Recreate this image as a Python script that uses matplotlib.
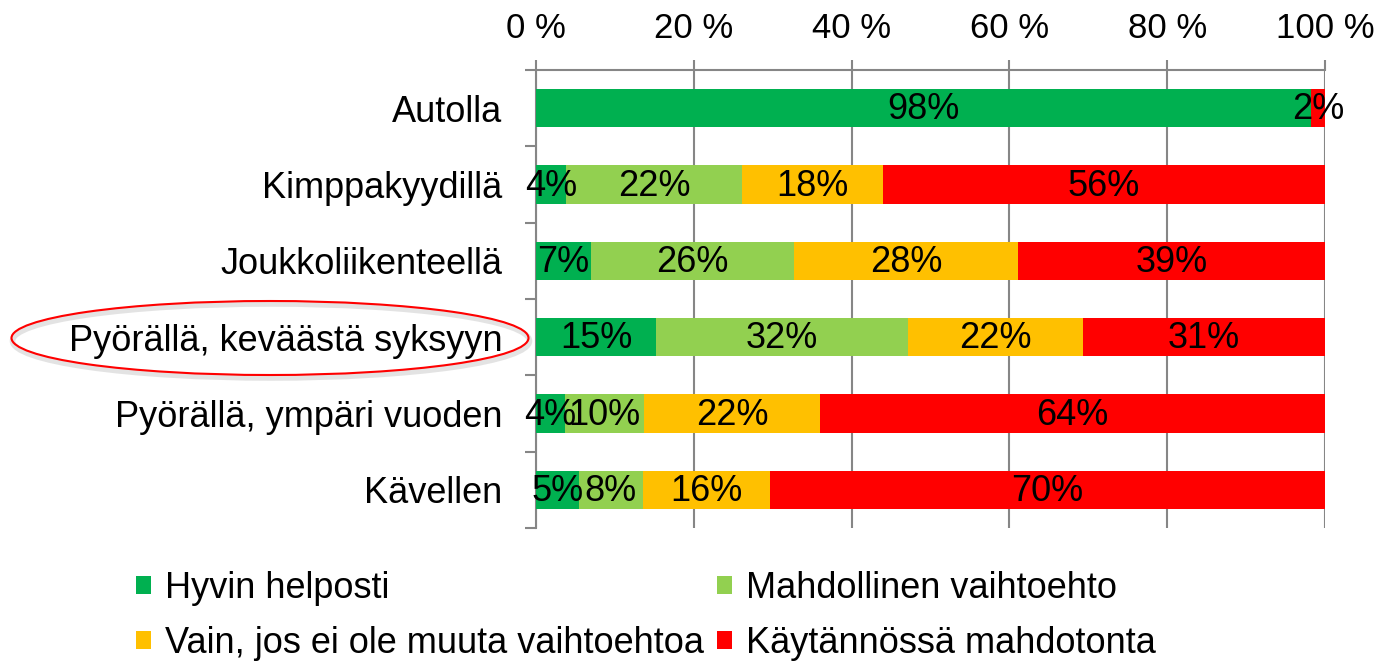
import matplotlib
matplotlib.use("Agg")
import matplotlib.pyplot as plt
import numpy as np
from matplotlib.patches import Ellipse

plt.rcParams['font.family'] = ['Liberation Sans', 'DejaVu Sans']

categories = ['Autolla', 'Kimppakyydillä', 'Joukkoliikenteellä',
              'Pyörällä, keväästä syksyyn', 'Pyörällä, ympäri vuoden', 'Kävellen']
series_names = ['Hyvin helposti', 'Mahdollinen vaihtoehto',
                'Vain, jos ei ole muuta vaihtoehtoa', 'Käytännössä mahdotonta']
hyvin = [98.2, 3.8, 7.0, 15.2, 3.7, 5.4]
mahdollinen = [0, 22.3, 25.7, 31.9, 10.0, 8.1]
vain = [0, 17.9, 28.4, 22.2, 22.3, 16.2]
mahdoton = [1.8, 56.0, 38.9, 30.7, 64.0, 70.3]
colors = ['#00B050', '#92D050', '#FFC000', '#FF0000']

FS = 26

fig = plt.figure(figsize=(13.89, 6.61), dpi=100)
ax = fig.add_axes([536/1389, 1-528/661, 789/1389, 458/661])

y = np.arange(len(categories))
left = np.zeros(len(categories))
bars = []
for vals, name, col in zip([hyvin, mahdollinen, vain, mahdoton], series_names, colors):
    vals = np.array(vals)
    b = ax.barh(y, vals, left=left, height=0.5, color=col, label=name, zorder=3)
    bars.append(b)
    for yi, (l, v) in enumerate(zip(left, vals)):
        if v > 0:
            ax.text(l + v/2, yi + 0.02, '%d%%' % round(v), ha='center', va='center',
                    fontsize=FS, color='black', zorder=4)
    left = left + vals

ax.set_xlim(0, 100)
ax.set_ylim(5.5, -0.5)
ax.set_xticks(np.arange(0, 101, 20))
ax.set_xticklabels(['%d %%' % v for v in range(0, 101, 20)])
ax.xaxis.tick_top()
ax.tick_params(axis='x', which='major', length=7, width=1.5, color='#868686',
               labelsize=25, pad=11)
ax.set_yticks(y)
ax.set_yticklabels(categories)
ax.set_yticks(np.arange(-0.5, 6, 1), minor=True)
ax.tick_params(axis='y', which='major', length=0, labelsize=FS, pad=24)
ax.tick_params(axis='y', which='minor', length=8, width=1.5, color='#868686')
ax.grid(axis='x', color='#868686', linewidth=1.5, zorder=0)
ax.set_axisbelow(True)
for s in ['right', 'bottom']:
    ax.spines[s].set_visible(False)
for s in ['top', 'left']:
    ax.spines[s].set_color('#868686')
    ax.spines[s].set_linewidth(1.5)

# highlight ellipse around one label
shadow = Ellipse((271/1389, 1-341/661), 517/1389, 74/661, transform=fig.transFigure,
                 fill=False, edgecolor='#b0b0b0', lw=4, alpha=0.35)
fig.patches.append(shadow)
ell = Ellipse((270/1389, 1-338/661), 517/1389, 74/661, transform=fig.transFigure,
              fill=False, edgecolor='red', lw=1.5)
fig.patches.append(ell)

handles = [bars[0], bars[2], bars[1], bars[3]]
labels = [series_names[0], series_names[2], series_names[1], series_names[3]]
fig.legend(handles, labels, loc='upper left', bbox_to_anchor=(118/1389, 1-553/661),
           ncol=2, frameon=False, fontsize=FS, handlelength=0.4, handleheight=0.4,
           handletextpad=0.4, columnspacing=0.37, labelspacing=0.55, borderpad=0)

plt.savefig('out.png', dpi=100)
